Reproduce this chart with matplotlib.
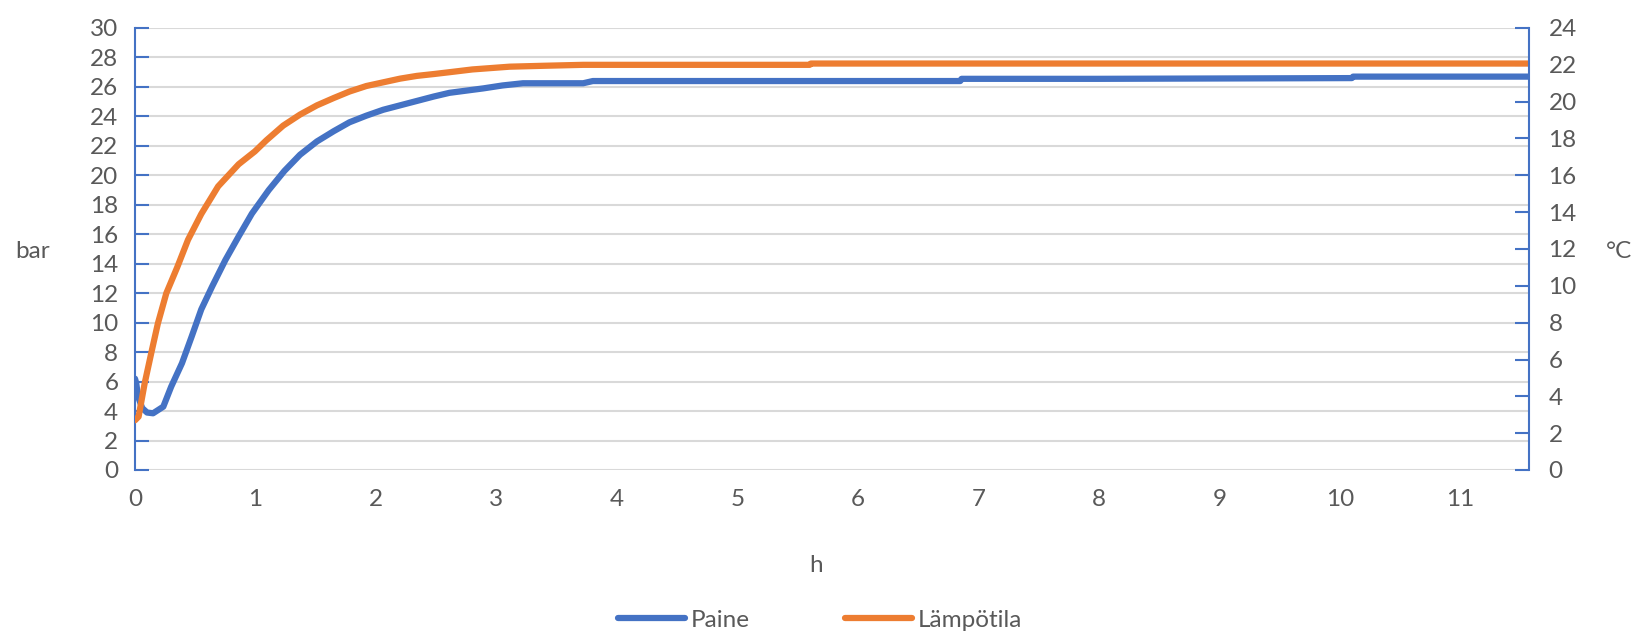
import matplotlib
matplotlib.use("Agg")
import matplotlib.pyplot as plt

# Paine (bar), left axis
paine_h = [0, 0.01, 0.025, 0.06, 0.1, 0.15, 0.235, 0.30, 0.39, 0.47, 0.55, 0.64, 0.75, 0.86,
           0.97, 1.11, 1.24, 1.37, 1.51, 1.65, 1.78, 1.92, 2.06, 2.2, 2.34, 2.48, 2.61, 2.75,
           2.89, 3.05, 3.22, 3.72, 3.8, 5.0, 6.0, 6.85, 6.86, 8.0, 10.1, 10.11, 11.57]
paine = [6.2, 5.9, 5.0, 4.2, 3.9, 3.85, 4.3, 5.65, 7.25, 9.05, 10.9, 12.45, 14.25, 15.85,
         17.4, 19.0, 20.3, 21.4, 22.3, 23.0, 23.6, 24.05, 24.45, 24.75, 25.05, 25.35, 25.6, 25.75,
         25.9, 26.1, 26.25, 26.25, 26.4, 26.4, 26.4, 26.4, 26.55, 26.55, 26.6, 26.7, 26.7]

# Lämpötila (°C), right axis
lampo_h = [0, 0.03, 0.08, 0.14, 0.19, 0.26, 0.35, 0.44, 0.55, 0.69, 0.86, 0.995, 1.09, 1.23,
           1.37, 1.51, 1.65, 1.78, 1.92, 2.06, 2.2, 2.34, 2.48, 2.61, 2.8, 3.11, 3.4, 3.72, 4.27,
           5.6, 5.61, 11.57]
lampo = [2.7, 2.9, 4.7, 6.5, 7.96, 9.6, 11.0, 12.5, 13.9, 15.4, 16.6, 17.3, 17.9, 18.7,
         19.3, 19.8, 20.2, 20.55, 20.85, 21.05, 21.25, 21.4, 21.5, 21.6, 21.75, 21.9, 21.95, 22.0, 22.0,
         22.0, 22.07, 22.07]

x_ticks = list(range(0, 12))
blue = "#4472C4"
orange = "#ED7D31"
grey = "#595959"

plt.rcParams["font.family"] = ["Lato", "DejaVu Sans"]

fig = plt.figure(figsize=(16.4, 6.36), dpi=100)
ax = fig.add_axes([135 / 1640, 1 - 470 / 636, (1529 - 135) / 1640, 442 / 636])
ax2 = ax.twinx()

l1, = ax.plot(paine_h, paine, color=blue, lw=4.5, solid_capstyle="round",
              solid_joinstyle="round", label="Paine")
l2, = ax2.plot(lampo_h, lampo, color=orange, lw=4.5, solid_capstyle="round",
               solid_joinstyle="round", label="Lämpötila")

ax.set_xlim(0, 11.57)
ax.set_ylim(0, 30)
ax2.set_ylim(0, 24)
ax.set_yticks(range(0, 31, 2))
ax2.set_yticks(range(0, 25, 2))
ax.set_xticks(x_ticks)

ax.grid(axis="y", color="#D9D9D9", lw=1.5)
ax.set_axisbelow(True)

for a in (ax, ax2):
    for s in ("top", "bottom"):
        a.spines[s].set_visible(False)
ax2.spines["left"].set_visible(False)
ax.spines["right"].set_visible(False)
ax.spines["left"].set_color(blue)
ax.spines["left"].set_linewidth(1.5)
ax2.spines["right"].set_color(blue)
ax2.spines["right"].set_linewidth(1.5)

ax.tick_params(axis="y", direction="in", length=10, width=1.5, color=blue,
               labelsize=17.5, labelcolor=grey, pad=12)
ax2.tick_params(axis="y", direction="in", length=10, width=1.5, color=blue,
                labelsize=17.5, labelcolor=grey, pad=14)
ax.tick_params(axis="x", length=0, labelsize=17.5, labelcolor=grey, pad=14)

fig.text(33 / 1640, 1 - 251 / 636, "bar", fontsize=17.5, color=grey, ha="center", va="center")
fig.text(1619 / 1640, 1 - 251 / 636, "°C", fontsize=17.5, color=grey, ha="center", va="center")
fig.text(816 / 1640, 1 - 565 / 636, "h", fontsize=17.5, color=grey, ha="center", va="center")

leg = fig.legend([l1, l2], ["Paine", "Lämpötila"], loc="center", ncol=2,
                 bbox_to_anchor=(0.5, 1 - 620 / 636), frameon=False, fontsize=17.5,
                 handlelength=2.75, handletextpad=0.25, columnspacing=3.9)
for t in leg.get_texts():
    t.set_color(grey)

fig.savefig("out.png", dpi=100)
